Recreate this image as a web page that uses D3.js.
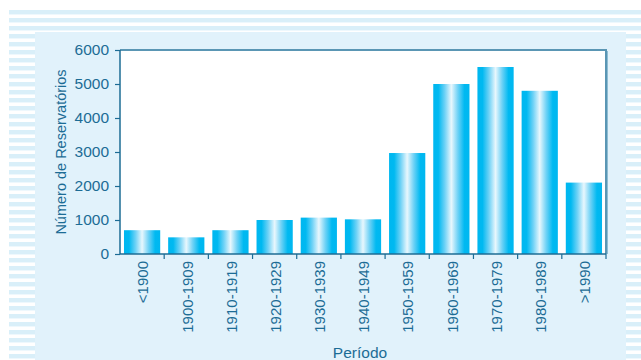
<!DOCTYPE html>
<html>
<head>
<meta charset="utf-8">
<script src="https://cdn.jsdelivr.net/npm/d3@7"></script>
<style>
  html, body { margin: 0; padding: 0; background: #ffffff; }
  svg { display: block; font-family: "Liberation Sans", Arial, sans-serif; }
</style>
</head>
<body>
<svg id="chart" width="641" height="360"></svg>
<script>
// Reservoirs built per period
const periods = ["<1900", "1900-1909", "1910-1919", "1920-1929", "1930-1939",
                 "1940-1949", "1950-1959", "1960-1969", "1970-1979", "1980-1989", ">1990"];
const reservoirs = [700, 490, 700, 1000, 1070, 1020, 2970, 5000, 5500, 4800, 2100];
const yTicks = [0, 1000, 2000, 3000, 4000, 5000, 6000];

const W = 641, H = 360;
const plot = { left: 120, right: 606, top: 50, bottom: 254 };
const ink = "#1c6c95";

const svg = d3.select("#chart");
const defs = svg.append("defs");

// striped backdrop
const pat = defs.append("pattern")
  .attr("id", "stripes").attr("patternUnits", "userSpaceOnUse")
  .attr("x", 0).attr("y", 10).attr("width", 32).attr("height", 8);
pat.append("rect").attr("width", 32).attr("height", 8).attr("fill", "#ffffff");
pat.append("rect").attr("y", 0).attr("width", 32).attr("height", 4).attr("fill", "#d9eff9");
pat.append("rect").attr("y", 4).attr("width", 32).attr("height", 1).attr("fill", "#eef8fd");

// bar shading: cyan edges, pale centre
const grad = defs.append("linearGradient")
  .attr("id", "barGrad").attr("x1", "0%").attr("x2", "100%").attr("y1", "0%").attr("y2", "0%");
[[0, "#00b7f0"], [0.14, "#00b9f1"], [0.32, "#6fd2f6"], [0.5, "#e8f7fd"],
 [0.68, "#6fd2f6"], [0.86, "#00b9f1"], [1, "#00b7f0"]]
  .forEach(([o, c]) => grad.append("stop").attr("offset", o).attr("stop-color", c));

svg.append("rect").attr("x", 9).attr("y", 10).attr("width", W - 9).attr("height", H - 10)
  .attr("fill", "url(#stripes)");

// light panel
svg.append("rect").attr("x", 35).attr("y", 32).attr("width", 591).attr("height", H - 32)
  .attr("fill", "#e1f2fb");

// plot area
svg.append("rect")
  .attr("x", plot.left).attr("y", plot.top)
  .attr("width", plot.right - plot.left).attr("height", plot.bottom - plot.top)
  .attr("fill", "#ffffff");

const x = d3.scaleBand().domain(periods)
  .range([plot.left, plot.right]).paddingInner(0.18).paddingOuter(0.09);
const y = d3.scaleLinear().domain([0, 6000]).range([plot.bottom, plot.top]);

// bars
svg.append("g").selectAll("rect").data(periods).join("rect")
  .attr("x", d => x(d))
  .attr("width", x.bandwidth())
  .attr("y", (d, i) => y(reservoirs[i]))
  .attr("height", (d, i) => y(0) - y(reservoirs[i]))
  .attr("fill", "url(#barGrad)");

// frame on the top and right
svg.append("path")
  .attr("d", `M${plot.left},${plot.top}H${plot.right}V${plot.bottom}`)
  .attr("fill", "none").attr("stroke", "#5a96b4").attr("stroke-width", 2);
svg.append("line")
  .attr("x1", plot.right + 1.5).attr("x2", plot.right + 1.5)
  .attr("y1", plot.top + 1).attr("y2", plot.bottom)
  .attr("stroke", "#8fbdd3").attr("stroke-width", 1);

// y axis
const yAxis = svg.append("g")
  .attr("transform", `translate(${plot.left},0)`)
  .call(d3.axisLeft(y).tickValues(yTicks).tickSize(5).tickPadding(6).tickFormat(d3.format("d")));
yAxis.select(".domain").attr("stroke", ink).attr("stroke-width", 1.5).attr("d", `M0,${plot.top}V${plot.bottom}`);
yAxis.selectAll(".tick line").attr("stroke", ink).attr("stroke-width", 1.2);
yAxis.selectAll(".tick text").attr("fill", ink).attr("font-size", 15.5)
  .attr("font-family", "Liberation Sans, Arial, sans-serif");

// x axis: ticks at band boundaries, labels rotated at band centres
const xg = svg.append("g").attr("transform", `translate(0,${plot.bottom})`);
xg.append("line").attr("x1", plot.left).attr("x2", plot.right)
  .attr("stroke", ink).attr("stroke-width", 1.5);
const bounds = periods.map(d => x(d) - x.step() * x.paddingInner() / 2).slice(1).concat([plot.right]);
xg.selectAll(".bt").data(bounds).join("line").attr("class", "bt")
  .attr("x1", d => d).attr("x2", d => d).attr("y1", 0).attr("y2", 5)
  .attr("stroke", ink).attr("stroke-width", 1.2);
xg.selectAll(".lbl").data(periods).join("text").attr("class", "lbl")
  .attr("transform", d => `translate(${x(d) + x.bandwidth() / 2 + 1},7) rotate(-90)`)
  .attr("text-anchor", "end").attr("dy", "0.35em")
  .attr("fill", ink).attr("font-size", 15)
  .text(d => d);

// axis titles
svg.append("text")
  .attr("transform", `translate(66,${(plot.top + plot.bottom) / 2 + 0}) rotate(-90)`)
  .attr("text-anchor", "middle")
  .attr("fill", ink).attr("font-size", 14.5)
  .text("Número de Reservatórios");
svg.append("text")
  .attr("x", 360).attr("y", 358)
  .attr("text-anchor", "middle")
  .attr("fill", ink).attr("font-size", 15.5)
  .text("Período");
</script>
</body>
</html>
